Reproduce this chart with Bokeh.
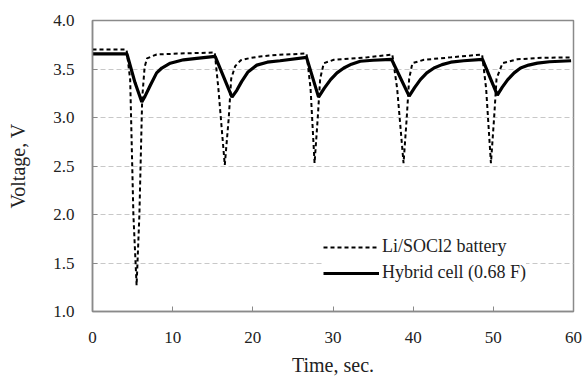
from bokeh.plotting import figure
from bokeh.models import Legend, LegendItem, Range1d, FixedTicker
from bokeh.embed import file_html
from bokeh.resources import INLINE

# Li/SOCl2 battery (dotted)
bat_t = [0, 4.25, 4.7, 5.1, 5.5, 5.85, 6.2, 6.5, 6.8, 8.0, 11.0, 15.25,
         15.7, 16.5, 17.0, 17.3, 17.8, 18.5, 19.5, 20.9, 23.0, 26.7,
         27.2, 27.7, 28.1, 28.4, 28.85, 30.1, 34.3, 37.4,
         38.0, 38.8, 39.2, 39.5, 39.9, 41.35, 44.7, 48.6,
         49.1, 49.7, 50.1, 50.4, 51.15, 53.0, 56.0, 59.7]
bat_v = [3.70, 3.70, 3.39, 2.0, 1.27, 2.0, 3.2, 3.52, 3.61, 3.65, 3.66, 3.67,
         3.3, 2.51, 3.0, 3.4, 3.53, 3.59, 3.61, 3.63, 3.645, 3.66,
         3.3, 2.53, 3.0, 3.4, 3.56, 3.595, 3.62, 3.65,
         3.3, 2.53, 3.0, 3.4, 3.56, 3.595, 3.62, 3.65,
         3.3, 2.53, 3.0, 3.4, 3.56, 3.60, 3.615, 3.62]

# Hybrid cell (0.68 F) (solid)
hyb_t = [0, 4.3, 5.3, 6.15, 6.56, 7.2, 8.0, 8.65, 9.7, 11.35, 13.0, 15.3,
         17.4, 18.0, 18.6, 19.4, 20.5, 21.8, 23.4, 26.7,
         28.2, 28.9, 29.7, 30.5, 31.35, 32.3, 33.4, 35.0, 37.3,
         39.5, 40.2, 40.9, 41.7, 42.6, 43.6, 44.7, 46.3, 48.65,
         50.5, 51.1, 51.8, 52.6, 53.4, 54.4, 55.5, 57.0, 59.7]
hyb_v = [3.655, 3.655, 3.36, 3.16, 3.22, 3.33, 3.46, 3.51, 3.56, 3.595, 3.61, 3.63,
         3.21, 3.28, 3.37, 3.47, 3.54, 3.57, 3.585, 3.62,
         3.21, 3.30, 3.39, 3.46, 3.51, 3.55, 3.58, 3.59, 3.60,
         3.22, 3.31, 3.39, 3.46, 3.51, 3.545, 3.57, 3.585, 3.60,
         3.23, 3.31, 3.39, 3.46, 3.51, 3.54, 3.56, 3.575, 3.585]

x_ticks = [0, 10, 20, 30, 40, 50, 60]
y_ticks = [1.0, 1.5, 2.0, 2.5, 3.0, 3.5, 4.0]

FONT = "Liberation Serif"

p = figure(width=584, height=385, output_backend="svg", toolbar_location=None,
           x_range=Range1d(0, 60), y_range=Range1d(1.0, 4.0),
           min_border_left=92, min_border_right=11, min_border_top=20, min_border_bottom=74)
p.background_fill_color = "white"
p.border_fill_color = "white"
p.outline_line_color = "#8a8a8a"
p.outline_line_width = 1.5

p.xgrid.grid_line_color = None
p.ygrid.grid_line_color = "#c8c8c8"
p.ygrid.grid_line_dash = "5 3"
p.ygrid.grid_line_width = 1

p.xaxis.ticker = FixedTicker(ticks=x_ticks)
p.yaxis.ticker = FixedTicker(ticks=y_ticks)
p.xaxis.major_label_overrides = {t: str(t) for t in x_ticks}
p.yaxis.major_label_overrides = {t: f"{t:.1f}" for t in y_ticks}

for ax in (p.xaxis, p.yaxis):
    ax.axis_line_color = "#8a8a8a"
    ax.axis_line_width = 1.5
    ax.major_tick_line_color = "#8a8a8a"
    ax.major_tick_in = 5
    ax.major_tick_out = 0
    ax.minor_tick_line_color = None
    ax.major_label_text_font = FONT
    ax.major_label_text_font_size = "17px"
    ax.major_label_text_color = "#222222"
    ax.axis_label_text_font = FONT
    ax.axis_label_text_font_size = "20px"
    ax.axis_label_text_font_style = "normal"
    ax.axis_label_text_color = "#222222"

p.xaxis.axis_label = "Time, sec."
p.yaxis.axis_label = "Voltage, V"
p.xaxis.major_label_standoff = 20
p.xaxis.axis_label_standoff = 8
p.yaxis.major_label_standoff = 18
p.yaxis.axis_label_standoff = 21

r_bat = p.line(bat_t, bat_v, line_color="black", line_width=2, line_dash="4 3")
r_hyb = p.line(hyb_t, hyb_v, line_color="black", line_width=3.2)

legend = Legend(items=[LegendItem(label="Li/SOCl2 battery", renderers=[r_bat]),
                       LegendItem(label="Hybrid cell (0.68 F)", renderers=[r_hyb])],
                location=(231, 28), orientation="vertical")
legend.label_text_font = FONT
legend.label_text_font_size = "18px"
legend.label_text_color = "#222222"
legend.glyph_width = 56
legend.glyph_height = 20
legend.label_standoff = 3
legend.spacing = 5
legend.padding = 8
legend.margin = 0
legend.border_line_color = None
legend.background_fill_color = "white"
legend.background_fill_alpha = 1.0
p.add_layout(legend, "center")

open("out.html", "w").write(file_html(p, INLINE))
